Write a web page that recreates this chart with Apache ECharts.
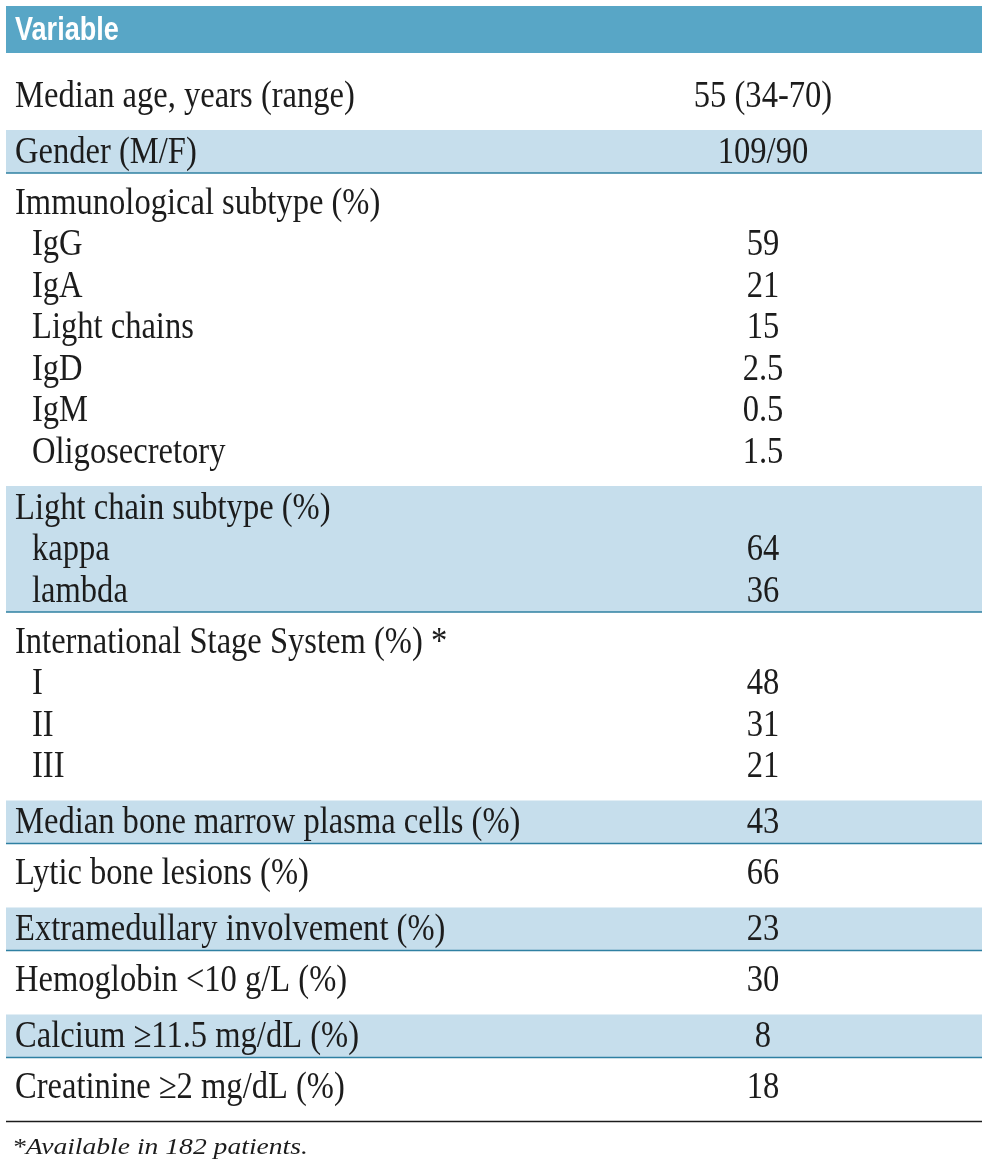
<!DOCTYPE html>
<html>
<head>
<meta charset="utf-8">
<script src="https://cdn.jsdelivr.net/npm/echarts@6/dist/echarts.min.js"></script>
<style>html,body{margin:0;padding:0;background:#fff}#c{width:990px;height:1176px}</style>
</head>
<body>
<div id="c"></div>
<script>
// ---- table content ----
const headerText = "Variable";
const footnoteText = "*Available in 182 patients.";
const rowLabels = [
  "Median age, years (range)", "Gender (M/F)",
  "Immunological subtype (%)", "IgG", "IgA", "Light chains", "IgD", "IgM", "Oligosecretory",
  "Light chain subtype (%)", "kappa", "lambda",
  "International Stage System (%) *", "I", "II", "III",
  "Median bone marrow plasma cells (%)", "Lytic bone lesions (%)",
  "Extramedullary involvement (%)", "Hemoglobin <10 g/L (%)",
  "Calcium \u226511.5 mg/dL (%)", "Creatinine \u22652 mg/dL (%)"
];
const rowValues = [
  "55 (34-70)", "109/90",
  "", "59", "21", "15", "2.5", "0.5", "1.5",
  "", "64", "36",
  "", "48", "31", "21",
  "43", "66", "23", "30", "8", "18"
];
const rowGroup  = [0,1,2,2,2,2,2,2,2,3,3,3,4,4,4,4,5,6,7,8,9,10];
const rowIndent = [0,0,0,1,1,1,1,1,1,0,1,1,0,1,1,1,0,0,0,0,0,0];
const groupShaded = [false,true,false,true,false,true,false,true,false,true,false];

// ---- layout / style (not data) ----
const LAY = {left:6, right:982, headerTop:6, headerBottom:53, firstPad:41,
  whiteTop:28, whiteBottom:36, shadeTop:20, shadeBottom:23, step:41.5,
  labelX:15, indentX:32, valueX:763, footGap:26, headerTextX:15, textDy:3, footX:12};
const COL = {header:'#58a6c6', band:'#c6deec', bandLine:'#2f80a2', text:'#1c1c1c', rule:'#1c1c1c'};
const BODY_FONT = '37px "Liberation Serif"';
const BODY_SX = 0.88;

// compute group geometry
const groups = [];
let cursor = LAY.headerBottom;
const rowY = new Array(rowLabels.length);
groupShaded.forEach((sh, g) => {
  const rows = rowGroup.map((gg,i)=>gg===g?i:-1).filter(i=>i>=0);
  const top = cursor;
  let y = top + (g===0 ? LAY.firstPad : (sh ? LAY.shadeTop : LAY.whiteTop));
  rows.forEach((r,k) => { rowY[r] = y + k*LAY.step; });
  const bottom = rowY[rows[rows.length-1]] + (sh ? LAY.shadeBottom : LAY.whiteBottom);
  groups.push([top, bottom, g]);
  cursor = bottom;
});
const tableBottom = cursor;

const chart = echarts.init(document.getElementById('c'), null, {renderer:'canvas'});
const option = {
  animation:false,
  grid:{left:0,right:0,top:0,bottom:0},
  xAxis:{type:'value',min:0,max:990,show:false},
  yAxis:{type:'value',min:0,max:1176,inverse:true,show:false},
  series:[
    { type:'custom', silent:true, name:'bands',
      data: groups.map(g=>[LAY.left, g[0], LAY.right, g[1], g[2]]),
      renderItem:(params, api)=>{
        const gi = api.value(4);
        if(!groupShaded[gi]) return {type:'group', children:[]};
        const p0 = api.coord([api.value(0), api.value(1)]);
        const p1 = api.coord([api.value(2), api.value(3)]);
        return {type:'group', children:[
          {type:'rect', shape:{x:p0[0], y:p0[1], width:p1[0]-p0[0], height:p1[1]-p0[1]}, style:{fill:COL.band}},
          {type:'line', shape:{x1:p0[0], y1:p1[1], x2:p1[0], y2:p1[1]}, style:{stroke:COL.bandLine, lineWidth:1.5}}
        ]};
      }
    },
    { type:'custom', silent:true, name:'rows',
      data: rowLabels.map((l,i)=>[rowIndent[i]?LAY.indentX:LAY.labelX, rowY[i]+LAY.textDy, i]),
      renderItem:(params, api)=>{
        const i = api.value(2);
        const p = api.coord([api.value(0), api.value(1)]);
        const pv = api.coord([LAY.valueX, api.value(1)]);
        const ch = [
          {type:'text', x:p[0], y:p[1], scaleX:BODY_SX,
           style:{text:rowLabels[i], font:BODY_FONT, fill:COL.text, align:'left', verticalAlign:'middle'}}
        ];
        if(rowValues[i]) ch.push({type:'text', x:pv[0], y:pv[1], scaleX:BODY_SX,
           style:{text:rowValues[i], font:BODY_FONT, fill:COL.text, align:'center', verticalAlign:'middle'}});
        return {type:'group', children:ch};
      }
    },
    { type:'custom', silent:true, name:'frame',
      data:[[LAY.left, LAY.headerTop, LAY.right, LAY.headerBottom, tableBottom]],
      renderItem:(params, api)=>{
        const p0 = api.coord([api.value(0), api.value(1)]);
        const p1 = api.coord([api.value(2), api.value(3)]);
        const pb = api.coord([api.value(2), api.value(4)]);
        const pf = api.coord([LAY.footX, api.value(4)+LAY.footGap]);
        const ph = api.coord([LAY.headerTextX, (api.value(1)+api.value(3))/2 + 1]);
        return {type:'group', children:[
          {type:'rect', shape:{x:p0[0], y:p0[1], width:p1[0]-p0[0], height:p1[1]-p0[1]}, style:{fill:COL.header}},
          {type:'text', x:ph[0], y:ph[1], scaleX:0.82,
           style:{text:headerText, font:'bold 33px "Liberation Sans"', fill:'#ffffff', align:'left', verticalAlign:'middle'}},
          {type:'line', shape:{x1:p0[0], y1:pb[1], x2:pb[0], y2:pb[1]}, style:{stroke:COL.rule, lineWidth:1.5}},
          {type:'text', x:pf[0], y:pf[1], scaleX:1.15,
           style:{text:footnoteText, font:'italic 24px "Liberation Serif"', fill:COL.text, align:'left', verticalAlign:'middle'}}
        ]};
      }
    }
  ]
};
chart.setOption(option);
</script>
</body>
</html>
